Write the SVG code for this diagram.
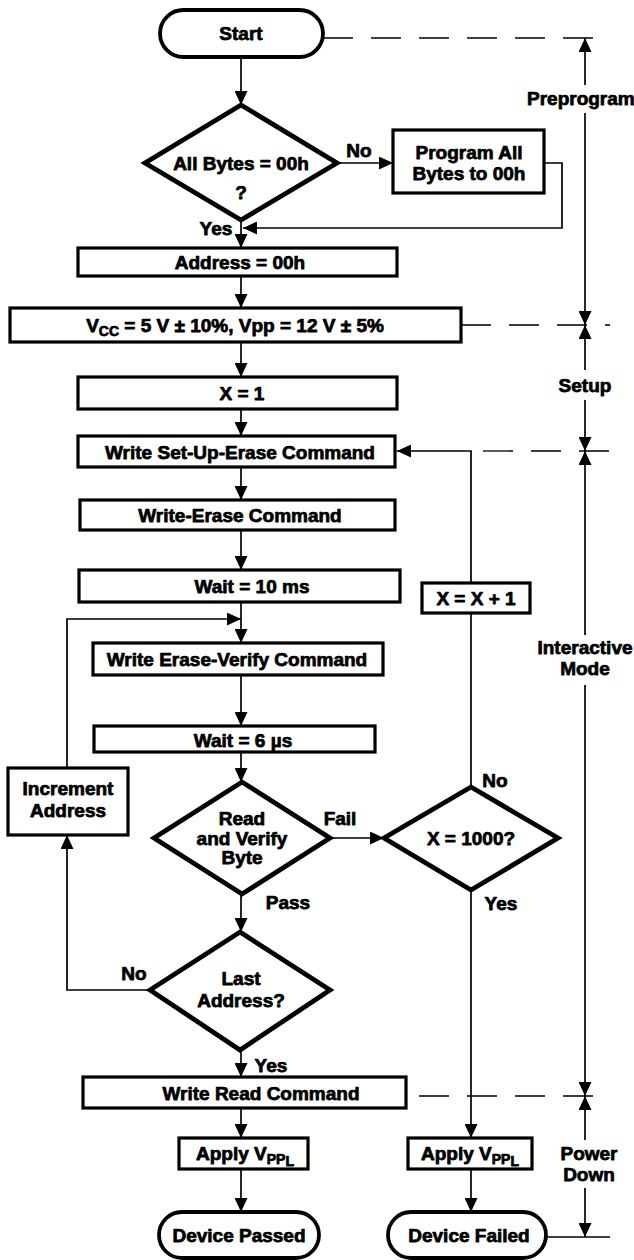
<svg xmlns="http://www.w3.org/2000/svg" width="634" height="1260" viewBox="0 0 634 1260">
  <style>
    text { font-family: "Liberation Sans", Arial, sans-serif; font-weight: bold; font-size: 19px; fill: #000; stroke: #000; stroke-width: 0.75px; stroke-linejoin: round; text-anchor: middle; }
    .box { fill: #fff; stroke: #000; stroke-width: 3.2; }
    .pill { fill: #fff; stroke: #000; stroke-width: 3.8; }
    .dia { fill: #fff; stroke: #000; stroke-width: 4.8; stroke-linejoin: miter; }
    .wire { fill: none; stroke: #000; stroke-width: 1.7; }
    .dash { fill: none; stroke: #000; stroke-width: 1.3; stroke-dasharray: 30 18; }
    .sub { font-size: 14px; }
  </style>
  <defs>
    <marker id="arr" viewBox="0 0 14 13" markerUnits="userSpaceOnUse" markerWidth="14" markerHeight="13" refX="14" refY="6.5" orient="auto">
      <path d="M0,0 L14,6.5 L0,13 z" fill="#000"/>
    </marker>
  </defs>

  <!-- phase boundary lines and the phase axis on the right -->
  <g id="phases">
    <path class="dash" d="M323,38 H610"/>
    <path class="dash" d="M461,325 H610"/>
    <path class="dash" d="M483,451 H610"/>
    <path class="dash" d="M419,1096 H610"/>
    <path class="wire" d="M546,1237 H610"/>
    <path class="wire" marker-end="url(#arr)" d="M585,85 V38"/>
    <path class="wire" marker-end="url(#arr)" d="M585,113 V325"/>
    <path class="wire" marker-end="url(#arr)" d="M585,370 V325"/>
    <path class="wire" marker-end="url(#arr)" d="M585,400 V451"/>
    <path class="wire" marker-end="url(#arr)" d="M585,635 V451"/>
    <path class="wire" marker-end="url(#arr)" d="M585,685 V1096"/>
    <path class="wire" marker-end="url(#arr)" d="M585,1140 V1096"/>
    <path class="wire" marker-end="url(#arr)" d="M585,1188 V1237"/>
    <text x="527" y="105" style="text-anchor:start">Preprogram</text>
    <text x="585" y="392">Setup</text>
    <text x="585" y="654">Interactive</text>
    <text x="585" y="675">Mode</text>
    <text x="589" y="1160">Power</text>
    <text x="589" y="1181">Down</text>
  </g>

  <!-- flow connectors -->
  <g id="connectors">
    <path class="wire" marker-end="url(#arr)" d="M241,57 V105"/>
    <path class="wire" marker-end="url(#arr)" d="M337,163 H393"/>
    <path class="wire" marker-end="url(#arr)" d="M544,163 H562 V228 H243"/>
    <path class="wire" marker-end="url(#arr)" d="M241,220 V248"/>
    <path class="wire" marker-end="url(#arr)" d="M241,276 V308"/>
    <path class="wire" marker-end="url(#arr)" d="M241,342 V377"/>
    <path class="wire" marker-end="url(#arr)" d="M241,409 V436"/>
    <path class="wire" marker-end="url(#arr)" d="M241,467 V500"/>
    <path class="wire" marker-end="url(#arr)" d="M241,530 V570"/>
    <path class="wire" marker-end="url(#arr)" d="M241,602 V643"/>
    <path class="wire" marker-end="url(#arr)" d="M67,768 V619 H241"/>
    <path class="wire" marker-end="url(#arr)" d="M241,675 V726"/>
    <path class="wire" marker-end="url(#arr)" d="M241,752 V782"/>
    <path class="wire" marker-end="url(#arr)" d="M330,838 H384"/>
    <path class="wire" d="M471,787 V613"/>
    <path class="wire" marker-end="url(#arr)" d="M471,583 V451 H397"/>
    <path class="wire" marker-end="url(#arr)" d="M471,890 V1138"/>
    <path class="wire" marker-end="url(#arr)" d="M241,894 V932"/>
    <path class="wire" marker-end="url(#arr)" d="M150,990 H67 V835"/>
    <path class="wire" marker-end="url(#arr)" d="M241,1050 V1077"/>
    <path class="wire" marker-end="url(#arr)" d="M241,1108 V1138"/>
    <path class="wire" marker-end="url(#arr)" d="M241,1169 V1212"/>
    <path class="wire" marker-end="url(#arr)" d="M471,1169 V1212"/>
    <text x="359" y="157">No</text>
    <text x="216" y="235">Yes</text>
    <text x="340" y="825">Fail</text>
    <text x="495" y="787">No</text>
    <text x="501" y="910">Yes</text>
    <text x="288" y="909">Pass</text>
    <text x="134" y="980">No</text>
    <text x="271" y="1072">Yes</text>
  </g>

  <g id="start">
    <rect class="pill" x="160" y="10" width="163" height="47" rx="23.5"/>
    <text x="241" y="40">Start</text>
  </g>

  <g id="all-bytes">
    <polygon class="dia" points="241,105 337,163 241,220 145,163"/>
    <text x="241" y="170">All Bytes = 00h</text>
    <text x="241" y="199">?</text>
  </g>

  <g id="program-all">
    <rect class="box" x="393" y="130" width="151" height="63"/>
    <text x="469" y="159">Program All</text>
    <text x="469" y="180">Bytes to 00h</text>
  </g>

  <g id="address-zero">
    <rect class="box" x="78" y="248" width="319" height="28"/>
    <text x="240" y="269">Address = 00h</text>
  </g>

  <g id="supply">
    <rect class="box" x="10" y="308" width="451" height="34"/>
    <text x="235" y="332">V<tspan class="sub" dy="4">CC</tspan><tspan dy="-4"> = 5 V ± 10%, Vpp = 12 V ± 5%</tspan></text>
  </g>

  <g id="x-init">
    <rect class="box" x="78" y="377" width="319" height="32"/>
    <text x="242" y="400">X = 1</text>
  </g>

  <g id="setup-erase">
    <rect class="box" x="78" y="436" width="317" height="31"/>
    <text x="240" y="459">Write Set-Up-Erase Command</text>
  </g>

  <g id="write-erase">
    <rect class="box" x="80" y="500" width="315" height="30"/>
    <text x="240" y="522">Write-Erase Command</text>
  </g>

  <g id="wait-10ms">
    <rect class="box" x="79" y="570" width="321" height="32"/>
    <text x="252" y="593">Wait = 10 ms</text>
  </g>

  <g id="x-increment">
    <rect class="box" x="422" y="583" width="108" height="30"/>
    <text x="476" y="605">X = X + 1</text>
  </g>

  <g id="erase-verify">
    <rect class="box" x="93" y="643" width="290" height="32"/>
    <text x="237" y="666">Write Erase-Verify Command</text>
  </g>

  <g id="wait-6us">
    <rect class="box" x="94" y="726" width="281" height="26"/>
    <text x="243" y="747">Wait = 6 µs</text>
  </g>

  <g id="increment-address">
    <rect class="box" x="8" y="768" width="120" height="67"/>
    <text x="68" y="795">Increment</text>
    <text x="68" y="817">Address</text>
  </g>

  <g id="read-verify">
    <polygon class="dia" points="242,782 330,838 242,894 154,838"/>
    <text x="242" y="825">Read</text>
    <text x="242" y="845">and Verify</text>
    <text x="242" y="864">Byte</text>
  </g>

  <g id="x-limit">
    <polygon class="dia" points="471,787 558,838 471,890 384,838"/>
    <text x="471" y="845">X = 1000?</text>
  </g>

  <g id="last-address">
    <polygon class="dia" points="240,932 330,990 240,1050 150,990"/>
    <text x="241" y="985">Last</text>
    <text x="241" y="1007">Address?</text>
  </g>

  <g id="write-read">
    <rect class="box" x="83" y="1077" width="323" height="31"/>
    <text x="261" y="1100">Write Read Command</text>
  </g>

  <g id="apply-vppl-pass">
    <rect class="box" x="179" y="1138" width="129" height="31"/>
    <text x="245" y="1160">Apply V<tspan class="sub" dy="4">PP</tspan><tspan class="sub" dy="2">L</tspan></text>
  </g>

  <g id="apply-vppl-fail">
    <rect class="box" x="408" y="1138" width="124" height="31"/>
    <text x="470" y="1160">Apply V<tspan class="sub" dy="4">PP</tspan><tspan class="sub" dy="2">L</tspan></text>
  </g>

  <g id="device-passed">
    <rect class="pill" x="159" y="1212" width="160" height="46" rx="23"/>
    <text x="239" y="1242">Device Passed</text>
  </g>

  <g id="device-failed">
    <rect class="pill" x="388" y="1212" width="158" height="46" rx="23"/>
    <text x="469" y="1242">Device Failed</text>
  </g>
</svg>
